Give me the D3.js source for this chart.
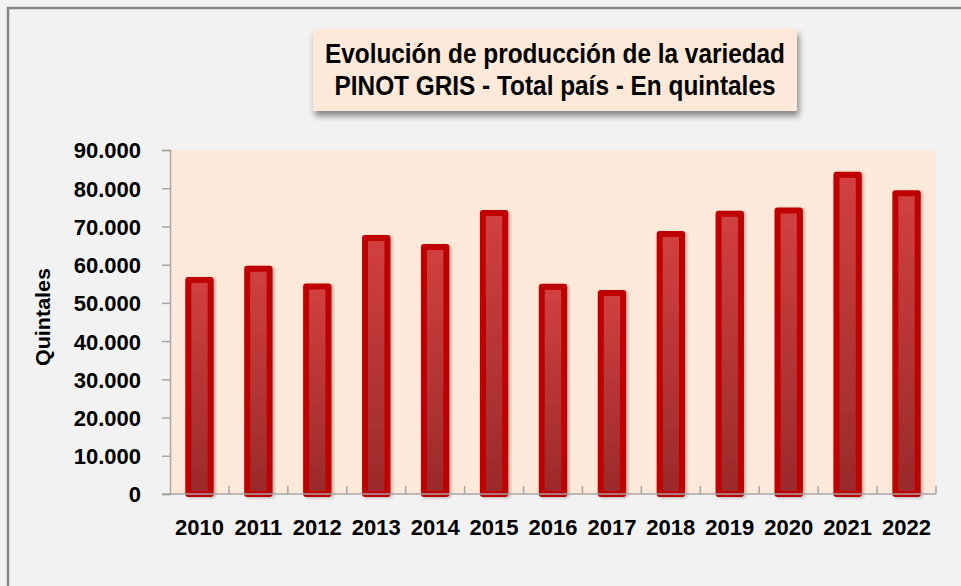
<html>
<head>
<meta charset="utf-8">
<title>Pinot Gris</title>
<style>
body { margin: 0; background: #f2f2f2; }
svg { display: block; font-family: 'Liberation Sans', Arial, sans-serif; }
.tick text { font-size: 22px; font-weight: bold; fill: #000; }
</style>
</head>
<body>
<div id="chart"></div>
<script src="https://d3js.org/d3.v7.min.js"></script>
<script>

// data
var years = ["2010", "2011", "2012", "2013", "2014", "2015", "2016", "2017", "2018", "2019", "2020", "2021", "2022"];
var quintales = [56000, 58900, 54300, 67000, 64600, 73500, 54200, 52600, 68000, 73300, 74200, 83500, 78700];
var yTicks = [0, 10000, 20000, 30000, 40000, 50000, 60000, 70000, 80000, 90000];
var titleLines = ["Evolución de producción de la variedad", "PINOT GRIS - Total país - En quintales"];
var yTitle = "Quintales";

var W = 961, H = 586;
var plotL = 170, plotR = 936, plotT = 150, plotB = 494;

var svg = d3.select("#chart").append("svg")
  .attr("width", W).attr("height", H);

var defs = svg.append("defs");

var grad = defs.append("linearGradient")
  .attr("id", "barGrad")
  .attr("x1", 0).attr("y1", 0).attr("x2", 0).attr("y2", 1);
grad.append("stop").attr("offset", "0%").attr("stop-color", "#d24040");
grad.append("stop").attr("offset", "100%").attr("stop-color", "#9a2a2a");

defs.append("filter").attr("id", "boxShadow")
  .attr("x", "-10%").attr("y", "-20%").attr("width", "120%").attr("height", "150%")
  .append("feDropShadow")
  .attr("dx", 2).attr("dy", 5).attr("stdDeviation", 3)
  .attr("flood-color", "#000").attr("flood-opacity", 0.45);

defs.append("filter").attr("id", "barShadow")
  .attr("x", "-30%").attr("y", "-10%").attr("width", "160%").attr("height", "120%")
  .append("feDropShadow")
  .attr("dx", 2).attr("dy", 1).attr("stdDeviation", 1.5)
  .attr("flood-color", "#000").attr("flood-opacity", 0.25);

// outer frame (right / bottom edges are outside the view)
svg.append("rect")
  .attr("x", 8).attr("y", 8)
  .attr("width", W + 20).attr("height", H + 20)
  .attr("fill", "#f2f2f2")
  .attr("stroke", "#858585")
  .attr("stroke-width", 2.5);

// plot area
svg.append("rect")
  .attr("x", plotL).attr("y", plotT)
  .attr("width", plotR - plotL).attr("height", plotB - plotT)
  .attr("fill", "#fde9d9");

var x = d3.scaleBand()
  .domain(years)
  .range([plotL, plotR])
  .paddingInner(0.62)
  .paddingOuter(0.31);

var y = d3.scaleLinear()
  .domain([0, 90000])
  .range([plotB, plotT]);

var locale = d3.formatLocale({ decimal: ",", thousands: ".", grouping: [3], currency: ["$", ""] });
var fmt = locale.format(",");

// y axis
var yAxis = svg.append("g")
  .attr("transform", "translate(" + plotL + ",0)")
  .call(d3.axisLeft(y).tickValues(yTicks).tickFormat(fmt).tickSize(8).tickPadding(21));
yAxis.select(".domain").attr("stroke", "#a6a6a6").attr("stroke-width", 1.5);
yAxis.selectAll(".tick line").attr("stroke", "#a6a6a6").attr("stroke-width", 1.5);
yAxis.selectAll(".tick text").attr("font-family", null).attr("font-size", null).attr("dy", "0.36em");

// bars
svg.append("g").selectAll("rect")
  .data(years)
  .enter().append("rect")
  .attr("x", function(d) { return x(d); })
  .attr("y", function(d, i) { return y(quintales[i]); })
  .attr("width", x.bandwidth())
  .attr("height", function(d, i) { return y(0) - y(quintales[i]); })
  .attr("fill", "url(#barGrad)")
  .attr("stroke", "#c00000")
  .attr("stroke-width", 6)
  .attr("stroke-linejoin", "round")
  .attr("filter", "url(#barShadow)");

// x axis: baseline and category separator ticks pointing up
var step = x.step();
svg.append("line")
  .attr("x1", plotL - 8).attr("x2", plotR)
  .attr("y1", plotB).attr("y2", plotB)
  .attr("stroke", "#a6a6a6").attr("stroke-width", 1.5);

svg.append("g").selectAll("line")
  .data(years)
  .enter().append("line")
  .attr("x1", function(d) { return x(d) - x.paddingOuter() * step + step; })
  .attr("x2", function(d) { return x(d) - x.paddingOuter() * step + step; })
  .attr("y1", plotB).attr("y2", plotB - 8)
  .attr("stroke", "#a6a6a6").attr("stroke-width", 1.5);

svg.append("g").selectAll("text")
  .data(years)
  .enter().append("text")
  .attr("x", function(d) { return x(d) + x.bandwidth() / 2; })
  .attr("y", 534.5)
  .attr("text-anchor", "middle")
  .attr("font-size", 22)
  .attr("font-weight", "bold")
  .text(function(d) { return d; });

// y axis title
svg.append("text")
  .attr("transform", "translate(50,317) rotate(-90)")
  .attr("text-anchor", "middle")
  .attr("font-size", 20)
  .attr("font-weight", "bold")
  .attr("textLength", 98)
  .attr("lengthAdjust", "spacingAndGlyphs")
  .text(yTitle);

// title box
svg.append("rect")
  .attr("x", 313).attr("y", 29)
  .attr("width", 484).attr("height", 82)
  .attr("fill", "#fde9d9")
  .attr("filter", "url(#boxShadow)");

var titleWidths = [460, 441];
var titleBase = [62.7, 95];
svg.append("g").selectAll("text")
  .data(titleLines)
  .enter().append("text")
  .attr("x", 555)
  .attr("y", function(d, i) { return titleBase[i]; })
  .attr("text-anchor", "middle")
  .attr("font-size", 27)
  .attr("font-weight", "bold")
  .attr("textLength", function(d, i) { return titleWidths[i]; })
  .attr("lengthAdjust", "spacingAndGlyphs")
  .text(function(d) { return d; });

</script>
</body>
</html>
